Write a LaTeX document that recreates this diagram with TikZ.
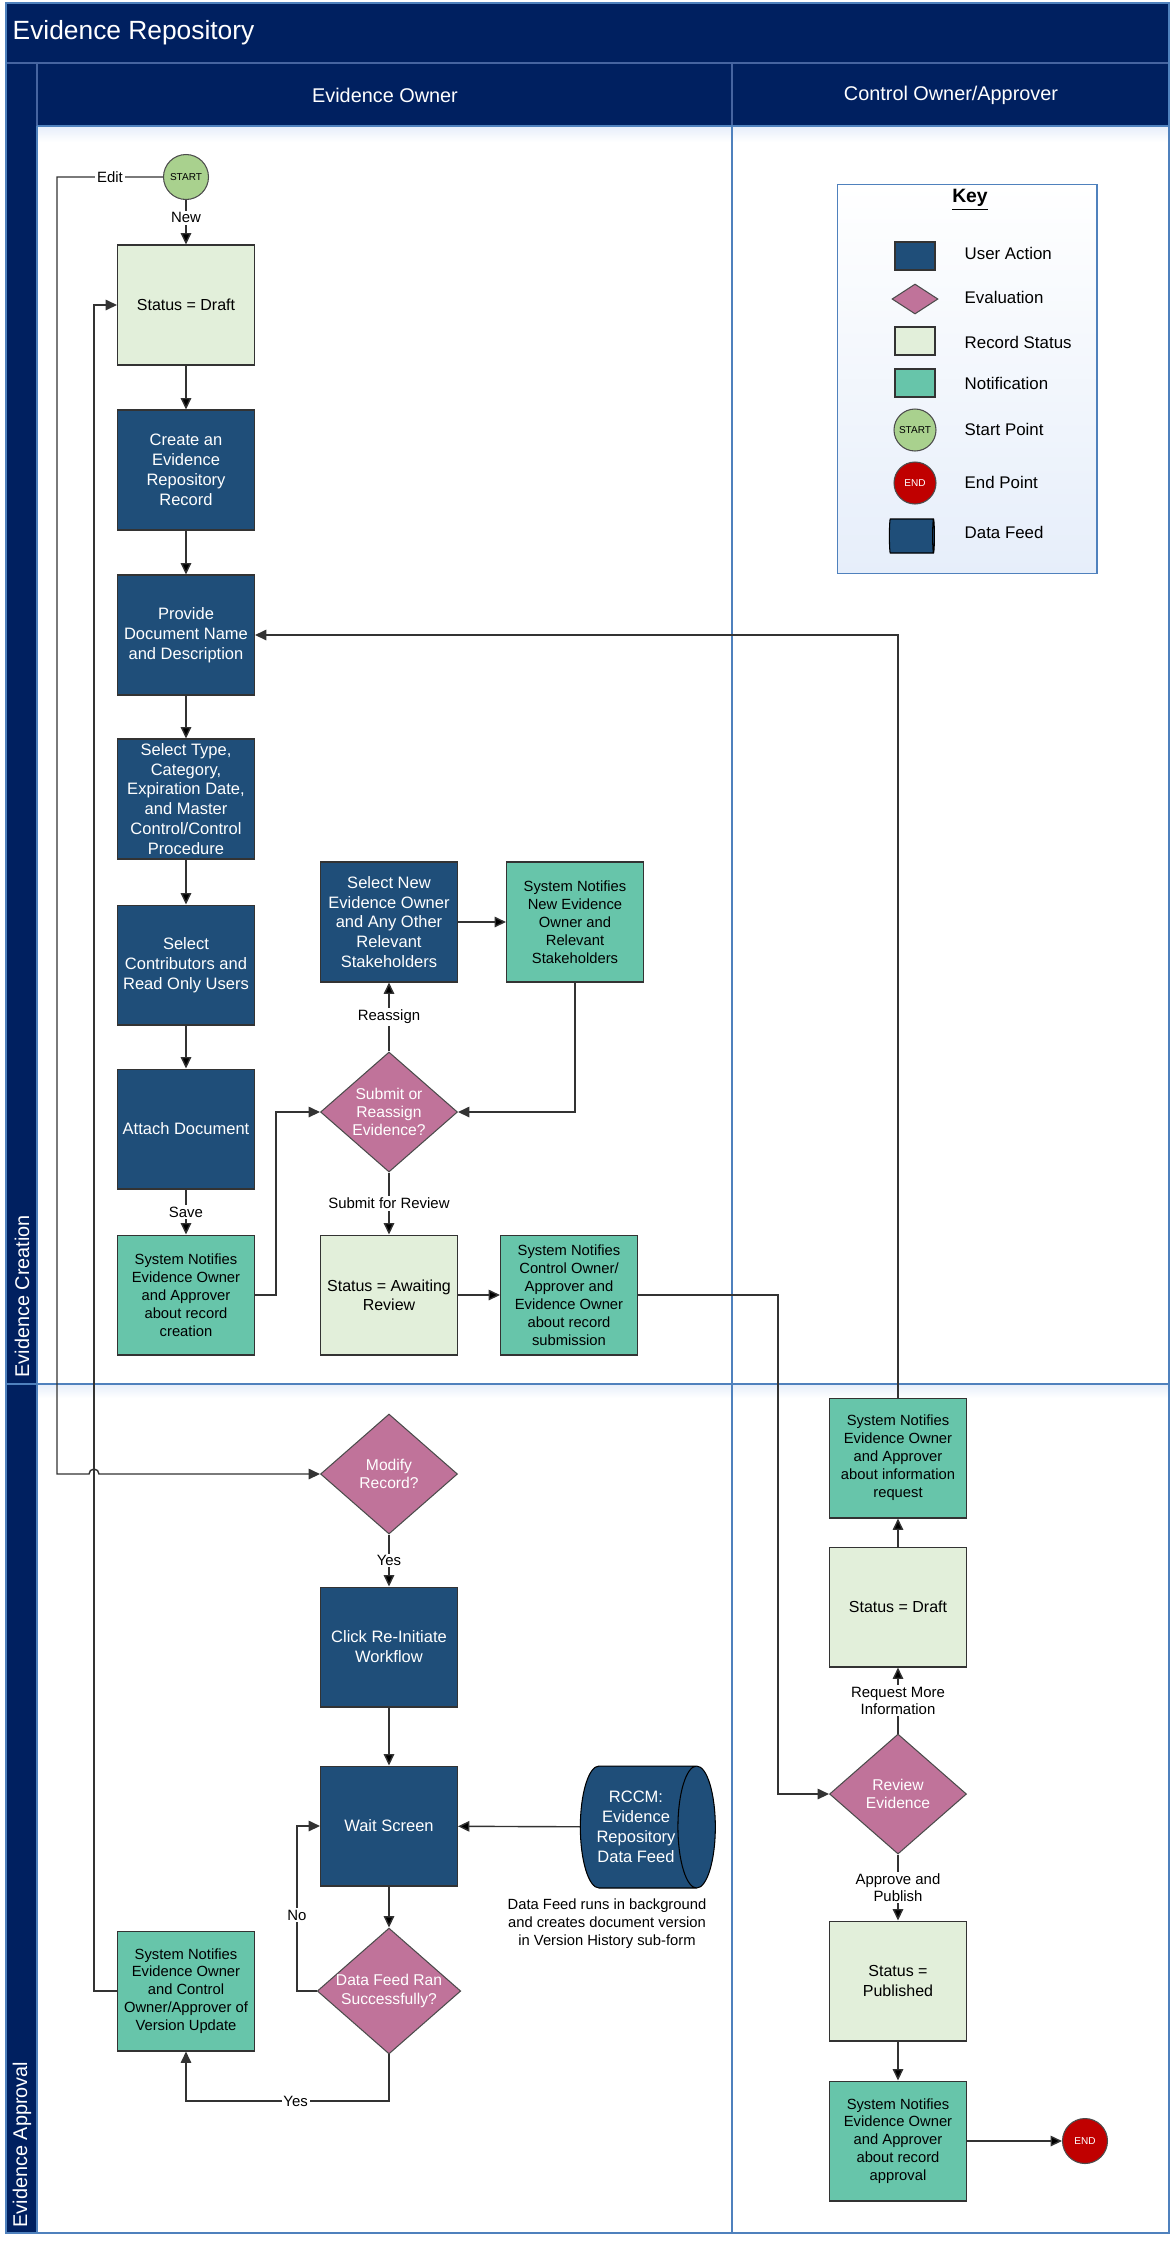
\documentclass[tikz,border=0pt]{standalone}
\usepackage{fontspec}
\setmainfont{Liberation Sans}
\usepackage{tikz}
\usetikzlibrary{shapes.geometric,arrows.meta}

\definecolor{lanenavy}{RGB}{0,32,96}
\definecolor{laneline}{RGB}{79,129,189}
\definecolor{headline}{RGB}{70,100,160}
\definecolor{actionblue}{RGB}{31,78,121}
\definecolor{evalpink}{RGB}{192,115,154}
\definecolor{statusgreen}{RGB}{226,239,218}
\definecolor{notifygreen}{RGB}{103,197,170}
\definecolor{startgreen}{RGB}{169,209,142}
\definecolor{endred}{RGB}{192,0,0}
\definecolor{keyblue}{RGB}{230,238,250}

\begin{document}
\begin{tikzpicture}[
        x = 0.02cm, y = -0.02cm, % one unit per pixel, y going down
        > = {Stealth[inset=0pt, length=6.5pt, width=6pt]}, % arrow head style
        line width = 0.8pt,
        link/.style = {->, draw=black!80},
        action/.style = {shape=rectangle, draw=black!80, line width=0.6pt, fill=actionblue, text=white,
            minimum width=2.74cm, minimum height=2.4cm, inner sep=1pt, align=center,
            font=\fontsize{9.4}{11.3}\selectfont},
        status/.style = {action, fill=statusgreen, text=black, font=\fontsize{9.1}{11}\selectfont},
        notify/.style = {action, fill=notifygreen, text=black, font=\fontsize{8.4}{10.2}\selectfont},
        decision/.style = {shape=diamond, aspect=1.14, draw=black!70, line width=0.6pt, fill=evalpink,
            text=white, minimum width=2.74cm, minimum height=2.4cm, inner sep=0pt, align=center,
            font=\fontsize{8.9}{10.4}\selectfont},
        terminal/.style = {shape=circle, draw=black!70, line width=0.6pt, minimum size=0.9cm, inner sep=0pt,
            font=\fontsize{5.7}{6}\selectfont},
        startpt/.style = {terminal, fill=startgreen},
        endpt/.style = {terminal, fill=endred, text=white},
        feed/.style = {shape=cylinder, aspect=0.5, draw=black, line width=0.6pt, fill=actionblue, text=white,
            minimum height=2.7cm, minimum width=2.44cm, inner sep=1pt, align=center,
            font=\fontsize{9.4}{11.3}\selectfont},
        lbl/.style = {fill=white, inner sep=1pt, align=center, font=\fontsize{8.5}{9.6}\selectfont},
        lanetext/.style = {text=white, font=\fontsize{11.3}{13}\selectfont},
        keytext/.style = {anchor=west, inner sep=0pt, font=\fontsize{9.6}{11}\selectfont}
    ]
\useasboundingbox (0,0) rectangle (1175,2242);

% swimlanes
\fill[lanenavy] (6,3) rectangle (1169,126);
\fill[lanenavy] (6,126) rectangle (37,2233);
\shade[top color=keyblue, bottom color=white] (37,126) rectangle (1169,142);
\shade[top color=keyblue, bottom color=white] (37,1384) rectangle (1169,1398);
\draw[headline, line width=0.6pt] (6,63) -- (1169,63) (37,63) -- (37,126) (732,63) -- (732,126);
\draw[laneline, line width=0.6pt] (37,126) -- (1169,126) (37,126) -- (37,2233)
    (732,126) -- (732,2233) (6,1384) -- (1169,1384);
\draw[laneline, line width=0.8pt] (6,3) rectangle (1169,2233);

\node[anchor=west, text=white, inner sep=0pt, font=\fontsize{15}{18}\selectfont] (title) at (12,33) {Evidence Repository};
\node[lanetext] (ownerhead) at (385,95) {Evidence Owner};
\node[lanetext] (approverhead) at (951,95) {Control Owner/Approver};
\node[lanetext, rotate=90, anchor=west, inner sep=0pt] (creationlane) at (22,1378) {Evidence Creation};
\node[lanetext, rotate=90, anchor=west, inner sep=0pt] (approvallane) at (22,2228) {Evidence Approval};

% key
\node[draw=laneline, line width=0.6pt, top color=white, bottom color=keyblue,
    minimum width=5.2cm, minimum height=7.8cm] (keyframe) at (967,379) {};
\node[font=\fontsize{11}{13}\selectfont\bfseries] (keytitle) at (970,200) {\underline{Key}};
\node[action, minimum width=0.8cm, minimum height=0.56cm] (keyact) at (915,256) {};
\node[decision, minimum width=0.92cm, minimum height=0.6cm] (keyeval) at (915,299) {};
\node[status, minimum width=0.8cm, minimum height=0.56cm] (keystat) at (915,341) {};
\node[notify, minimum width=0.8cm, minimum height=0.56cm] (keynote) at (915,383) {};
\node[startpt, minimum size=0.84cm] (keystart) at (915,430) {START};
\node[endpt, minimum size=0.84cm] (keyend) at (915,483) {END};
\node[feed, minimum height=0.9cm, minimum width=0.68cm] (keyfeed) at (911,536) {};
\node[keytext] at (964,253) {User Action};
\node[keytext] at (964,297) {Evaluation};
\node[keytext] at (964,342) {Record Status};
\node[keytext] at (964,383) {Notification};
\node[keytext] at (964,429) {Start Point};
\node[keytext] at (964,482) {End Point};
\node[keytext] at (964,532) {Data Feed};

% evidence creation
\node[startpt] (start) at (186,177) {START};
\node[status] (draft) at (186,305) {Status = Draft};
\node[action] (create) at (186,470) {Create an\\Evidence\\Repository\\Record};
\node[action] (provide) at (186,635) {Provide\\Document Name\\and Description};
\node[action] (seltype) at (186,799) {Select Type,\\Category,\\Expiration Date,\\and Master\\Control/Control\\Procedure};
\node[action] (selusers) at (186,965) {Select\\Contributors and\\Read Only Users};
\node[action] (attach) at (186,1129) {Attach Document};
\node[notify] (notecreate) at (186,1295) {System Notifies\\Evidence Owner\\and Approver\\about record\\creation};
\node[action] (selowner) at (389,922) {Select New\\Evidence Owner\\and Any Other\\Relevant\\Stakeholders};
\node[notify] (notenew) at (575,922) {System Notifies\\New Evidence\\Owner and\\Relevant\\Stakeholders};
\node[decision] (submit) at (389,1112) {Submit or\\Reassign\\Evidence?};
\node[status] (awaiting) at (389,1295) {Status = Awaiting\\Review};
\node[notify] (notesubmit) at (569,1295) {System Notifies\\Control Owner/\\Approver and\\Evidence Owner\\about record\\submission};

% evidence approval
\node[decision] (modify) at (389,1474) {Modify\\Record?};
\node[action] (reinit) at (389,1647) {Click Re-Initiate\\Workflow};
\node[action] (wait) at (389,1826) {Wait Screen};
\node[decision] (feedok) at (389,1991) {Data Feed Ran\\Successfully?};
\node[notify] (noteversion) at (186,1991) {System Notifies\\Evidence Owner\\and Control\\Owner/Approver of\\Version Update};
\node[feed] (datafeed) at (636,1827) {RCCM:\\Evidence\\Repository\\Data Feed};
\node[align=center, inner sep=0pt, font=\fontsize{8.4}{10.2}\selectfont] (feednote) at (607,1924)
    {Data Feed runs in background\\and creates document version\\in Version History sub-form};
\node[notify] (noteinfo) at (898,1458) {System Notifies\\Evidence Owner\\and Approver\\about information\\request};
\node[status] (draftback) at (898,1607) {Status = Draft};
\node[decision] (review) at (898,1794) {Review\\Evidence};
\node[status] (published) at (898,1981) {Status =\\Published};
\node[notify] (noteapprove) at (898,2141) {System Notifies\\Evidence Owner\\and Approver\\about record\\approval};
\node[endpt] (finish) at (1085,2141) {END};

\path [link] (start) edge node[lbl, pos=0.4] {New} (draft);
\path [link] (draft) edge (create);
\path [link] (create) edge (provide);
\path [link] (provide) edge (seltype);
\path [link] (seltype) edge (selusers);
\path [link] (selusers) edge (attach);
\path [link] (attach) edge node[lbl] {Save} (notecreate);
\draw [link] (notecreate.east) -- (276,1295) |- (submit.west);
\path [link] (submit) edge node[lbl] {Reassign} (selowner);
\path [link] (selowner) edge (notenew);
\draw [link] (notenew.south) |- (submit.east);
\path [link] (submit) edge node[lbl] {Submit for Review} (awaiting);
\path [link] (awaiting) edge (notesubmit);
\draw [link] (notesubmit.east) -- (778,1295) |- (review.west);

\draw [link] (start.west) -- node[lbl] {Edit} (57,177) -- (57,1474) -- (89,1474)
    arc[start angle=180, end angle=360, radius=5] -- (modify.west);
\path [link] (modify) edge node[lbl] {Yes} (reinit);
\path [link] (reinit) edge (wait);
\path [link] (datafeed) edge (wait);
\path [link] (wait) edge (feedok);
\draw [link] (feedok.west) -- (297,1991) |- node[lbl, pos=0.23] {No} (wait.west);
\draw [link] (feedok.south) -- (389,2101) -| node[lbl, pos=0.23] {Yes} (noteversion.south);
\draw [link] (noteversion.west) -- (94,1991) |- (draft.west);

\path [link] (review) edge node[lbl] {Request More\\Information} (draftback);
\path [link] (draftback) edge (noteinfo);
\draw [link] (noteinfo.north) |- (provide.east);
\path [link] (review) edge node[lbl] {Approve and\\Publish} (published);
\path [link] (published) edge (noteapprove);
\path [link] (noteapprove) edge (finish);
\end{tikzpicture}
\end{document}
